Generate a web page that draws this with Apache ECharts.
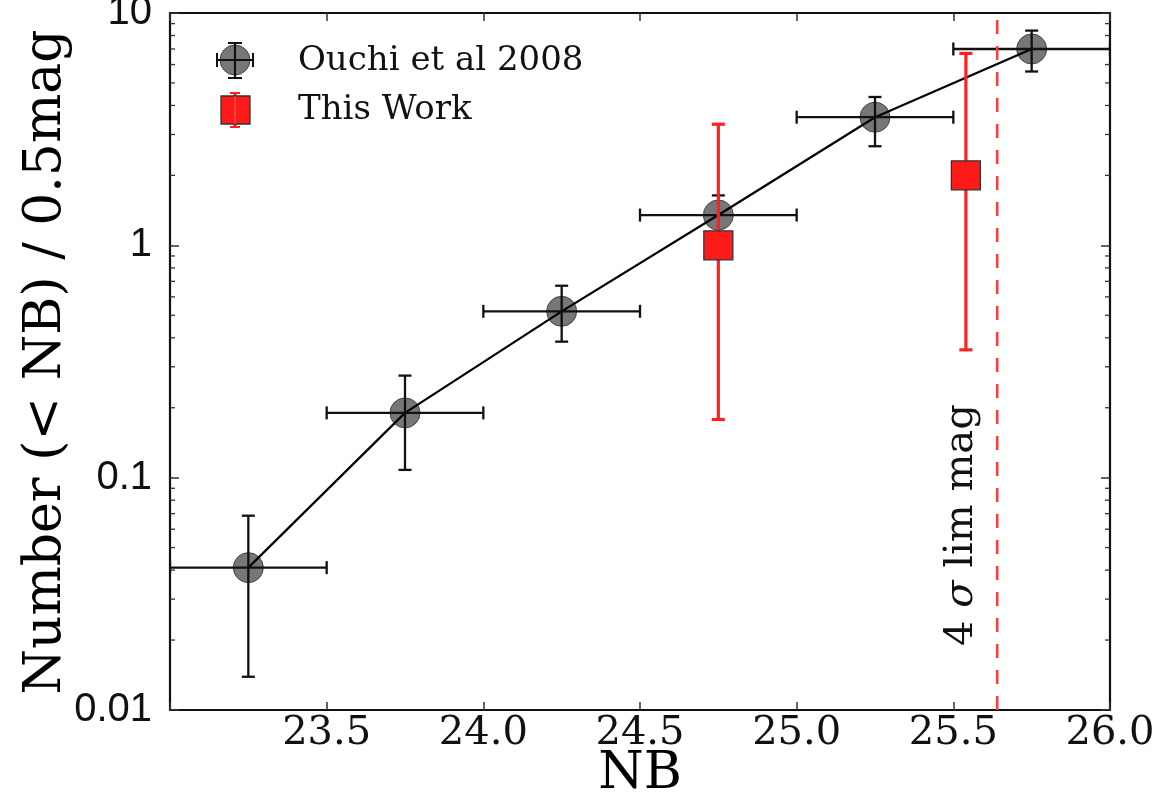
<!DOCTYPE html>
<html>
<head>
<meta charset="utf-8">
<script src="https://cdn.jsdelivr.net/npm/echarts@6/dist/echarts.min.js"></script>
<style>
html,body{margin:0;padding:0;background:#fff;}
#chart{width:1162px;height:799px;}
</style>
</head>
<body>
<div id="chart"></div>
<script>
// ---- data ----
const ouchiX = [23.25, 23.75, 24.25, 24.75, 25.25, 25.75];
const ouchiY = [0.041, 0.19, 0.52, 1.35, 3.56, 7.0];
const ouchiYLow = [0.0139, 0.108, 0.385, 1.08, 2.67, 5.6];
const ouchiYHigh = [0.0686, 0.275, 0.67, 1.64, 4.35, 8.4];
const ouchiXErr = [0.25, 0.25, 0.25, 0.25, 0.25, 0.25];

const workX = [24.75, 25.54];
const workY = [1.0, 2.0];
const workYLow = [0.178, 0.355];
const workYHigh = [3.32, 6.7];

const limMag = 25.64;
const limLabelPos = [25.525, 0.0625];

const xTicks = [23.0, 23.5, 24.0, 24.5, 25.0, 25.5, 26.0];
const yTickLabels = ['0.01', '0.1', '1', '10'];

const seriesNames = ['Ouchi et al 2008', 'This Work'];
const xTitle = 'NB';
const yTitle = 'Number (< NB) / 0.5mag';

// ---- derived ----
const minorVals = [];
[0.01, 0.1, 1].forEach(d => { for (let k = 2; k <= 9; k++) minorVals.push(+(d * k).toPrecision(3)); });

const ouchiErrRows = ouchiX.map((x, i) => [x, ouchiY[i], x - ouchiXErr[i], x + ouchiXErr[i], ouchiYLow[i], ouchiYHigh[i]]);
const workErrRows = workX.map((x, i) => [x, workY[i], x, x, workYLow[i], workYHigh[i]]);

function errRenderer(color, width, cap) {
  return function (params, api) {
    const x = api.value(0), y = api.value(1), xl = api.value(2), xh = api.value(3), yl = api.value(4), yh = api.value(5);
    const pL = api.coord([xl, y]), pR = api.coord([xh, y]);
    const pB = api.coord([x, yl]), pT = api.coord([x, yh]);
    const st = { stroke: color, lineWidth: width, fill: null };
    const ch = [];
    ch.push({ type: 'line', shape: { x1: pB[0], y1: pB[1], x2: pT[0], y2: pT[1] }, style: st });
    ch.push({ type: 'line', shape: { x1: pT[0] - cap, y1: pT[1], x2: pT[0] + cap, y2: pT[1] }, style: st });
    ch.push({ type: 'line', shape: { x1: pB[0] - cap, y1: pB[1], x2: pB[0] + cap, y2: pB[1] }, style: st });
    if (xh > xl) {
      ch.push({ type: 'line', shape: { x1: pL[0], y1: pL[1], x2: pR[0], y2: pR[1] }, style: st });
      ch.push({ type: 'line', shape: { x1: pL[0], y1: pL[1] - cap, x2: pL[0], y2: pL[1] + cap }, style: st });
      ch.push({ type: 'line', shape: { x1: pR[0], y1: pR[1] - cap, x2: pR[0], y2: pR[1] + cap }, style: st });
    }
    return { type: 'group', children: ch };
  };
}

const serif = "DejaVu Serif";
const chart = echarts.init(document.getElementById('chart'));

const xCommon = {
  type: 'value', min: 23, max: 26, interval: 0.5,
  splitLine: { show: false },
  axisLine: { show: true, onZero: false, lineStyle: { color: '#111', width: 2.2 } },
  axisTick: { show: true, inside: true, length: 8, lineStyle: { color: '#333', width: 1.5 } }
};
const yCommon = {
  type: 'log', logBase: 10, min: 0.01, max: 10,
  splitLine: { show: false },
  axisLine: { show: true, onZero: false, lineStyle: { color: '#111', width: 2.2 } },
  axisTick: { show: true, inside: true, length: 9, lineStyle: { color: '#333', width: 1.5 } }
};

const option = {
  backgroundColor: '#fff',
  animation: false,
  grid: { left: 170, right: 52, top: 13, bottom: 89, outerBoundsMode: 'none', containLabel: false },
  xAxis: [
    Object.assign({}, xCommon, {
      position: 'bottom',
      axisLabel: {
        fontFamily: serif, fontSize: 40, color: '#111', margin: 4,
        showMinLabel: true, showMaxLabel: true, hideOverlap: false,
        formatter: v => {
          const t = xTicks.find(tv => Math.abs(tv - v) < 1e-6);
          return (t === undefined || t === 23.0) ? '' : t.toFixed(1);
        }
      },
      name: xTitle, nameLocation: 'middle', nameGap: 38, nameMoveOverlap: false,
      nameTextStyle: { fontFamily: serif, fontSize: 52, color: '#000', verticalAlign: 'top', lineHeight: 52 }
    }),
    Object.assign({}, xCommon, { position: 'top', axisLabel: { show: false } })
  ],
  yAxis: [
    Object.assign({}, yCommon, {
      position: 'left',
      axisLabel: {
        fontFamily: 'Liberation Sans', fontSize: 40, color: '#111', margin: 18,
        showMinLabel: true, showMaxLabel: true, hideOverlap: false,
        formatter: v => {
          const lv = Math.round(Math.log10(v));
          return yTickLabels[lv + 2] || '';
        }
      }
    }),
    Object.assign({}, yCommon, { position: 'right', axisLabel: { show: false } })
  ],
  graphic: [
    // y axis title
    { type: 'text', x: 46, y: 362, rotation: Math.PI / 2,
      style: { text: yTitle, fontFamily: serif, fontSize: 52, fill: '#000', align: 'center', verticalAlign: 'middle' }, z: 100 },
    // legend
    { type: 'circle', shape: { cx: 235, cy: 60, r: 15 }, style: { fill: '#777', stroke: '#444', lineWidth: 1 }, z: 100 },
    { type: 'line', shape: { x1: 217, y1: 60, x2: 253, y2: 60 }, style: { stroke: '#111', lineWidth: 2.2 }, z: 101 },
    { type: 'line', shape: { x1: 217, y1: 53, x2: 217, y2: 67 }, style: { stroke: '#111', lineWidth: 2 }, z: 101 },
    { type: 'line', shape: { x1: 253, y1: 53, x2: 253, y2: 67 }, style: { stroke: '#111', lineWidth: 2 }, z: 101 },
    { type: 'line', shape: { x1: 235, y1: 43, x2: 235, y2: 78 }, style: { stroke: '#111', lineWidth: 2.2 }, z: 101 },
    { type: 'line', shape: { x1: 228, y1: 43, x2: 242, y2: 43 }, style: { stroke: '#111', lineWidth: 2 }, z: 101 },
    { type: 'line', shape: { x1: 228, y1: 78, x2: 242, y2: 78 }, style: { stroke: '#111', lineWidth: 2 }, z: 101 },
    { type: 'text', x: 298, y: 61, style: { text: seriesNames[0], fontFamily: serif, fontSize: 34, fill: '#111', verticalAlign: 'middle' }, z: 101 },
    { type: 'line', shape: { x1: 235, y1: 93, x2: 235, y2: 127 }, style: { stroke: '#ff2020', lineWidth: 3 }, z: 100 },
    { type: 'line', shape: { x1: 230, y1: 93, x2: 240, y2: 93 }, style: { stroke: '#ff2020', lineWidth: 2 }, z: 100 },
    { type: 'line', shape: { x1: 230, y1: 127, x2: 240, y2: 127 }, style: { stroke: '#ff2020', lineWidth: 2 }, z: 100 },
    { type: 'rect', shape: { x: 221, y: 96, width: 29, height: 28 }, style: { fill: '#ff1a1a', stroke: '#333', lineWidth: 1.3 }, z: 101 },
    { type: 'line', shape: { x1: 235, y1: 96, x2: 235, y2: 124 }, style: { stroke: '#ff5050', lineWidth: 2, opacity: 0.6 }, z: 102 },
    { type: 'text', x: 298, y: 110, style: { text: seriesNames[1], fontFamily: serif, fontSize: 34, fill: '#111', verticalAlign: 'middle' }, z: 101 }
  ],
  series: [
    {
      type: 'custom', name: 'minorTicks', silent: true, xAxisIndex: 0, yAxisIndex: 0, z: 1,
      data: minorVals.map(v => [v]),
      renderItem: (params, api) => {
        const v = api.value(0);
        const pl = api.coord([23, v]), pr = api.coord([26, v]);
        const st = { stroke: '#333', lineWidth: 1.3 };
        return { type: 'group', children: [
          { type: 'line', shape: { x1: pl[0], y1: pl[1], x2: pl[0] + 5, y2: pl[1] }, style: st },
          { type: 'line', shape: { x1: pr[0], y1: pr[1], x2: pr[0] - 5, y2: pr[1] }, style: st }
        ] };
      }
    },
    {
      type: 'scatter', name: seriesNames[0], symbol: 'circle', symbolSize: 30, z: 2,
      data: ouchiX.map((x, i) => [x, ouchiY[i]]),
      itemStyle: { color: '#777', borderColor: '#444', borderWidth: 1, opacity: 1 }
    },
    {
      type: 'line', name: 'ouchiLine', symbol: 'none', z: 3,
      data: ouchiX.map((x, i) => [x, ouchiY[i]]),
      lineStyle: { color: '#000', width: 2.2 }
    },
    {
      type: 'custom', name: 'ouchiErr', z: 4, clip: true,
      data: ouchiErrRows,
      renderItem: errRenderer('#111', 2.3, 6.5)
    },
    {
      type: 'custom', name: 'workErr', z: 5, clip: true,
      data: workErrRows,
      renderItem: errRenderer('#ff2020', 3.2, 6.5)
    },
    {
      type: 'scatter', name: seriesNames[1], symbol: 'rect', symbolSize: 29, z: 6,
      data: workX.map((x, i) => [x, workY[i]]),
      itemStyle: { color: '#ff1a1a', borderColor: '#333', borderWidth: 1.3, opacity: 1 }
    },
    {
      type: 'custom', name: 'limit', silent: true, z: 7,
      data: [[limMag]],
      renderItem: (params, api) => {
        const x = api.value(0);
        const pb = api.coord([x, 0.01]), pt = api.coord([x, 10]);
        const tp = api.coord(limLabelPos);
        return { type: 'group', children: [
          { type: 'line', shape: { x1: pb[0], y1: pb[1], x2: pt[0], y2: pt[1] },
            style: { stroke: '#ff3b3b', lineWidth: 2.5, lineDash: [14, 12] } },
          { type: 'text', x: tp[0], y: tp[1], rotation: Math.PI / 2,
            style: {
              text: '4 {i|σ} lim mag', fontFamily: serif, fontSize: 40, fill: '#111', align: 'center', verticalAlign: 'middle',
              rich: { i: { fontFamily: serif, fontSize: 40, fontStyle: 'italic', fill: '#111' } }
            } }
        ] };
      }
    }
  ]
};
chart.setOption(option);
</script>
</body>
</html>
